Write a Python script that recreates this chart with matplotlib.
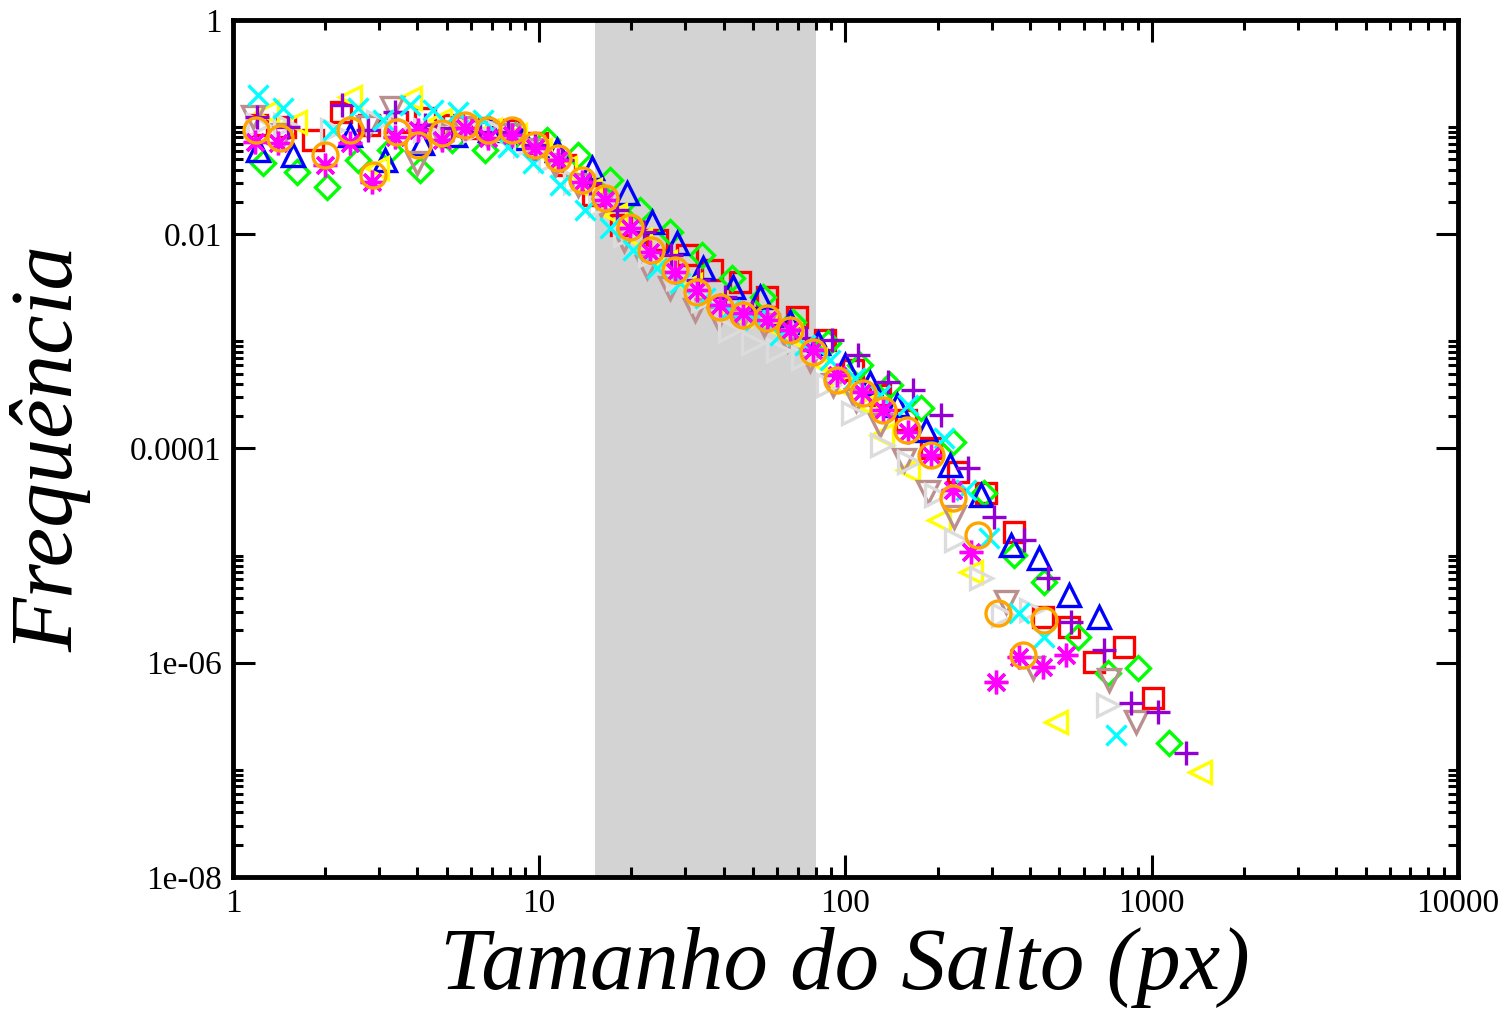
import matplotlib
matplotlib.use("Agg")
import matplotlib.pyplot as plt
from matplotlib.ticker import FixedLocator, FixedFormatter, NullFormatter

plt.rcParams['font.family'] = ['Liberation Serif', 'DejaVu Serif']

# shaded band (jump sizes)
band_lo, band_hi = 15.2, 80.0

# one list pair per series (x = jump size in px, y = frequency)
red_x = [1.198, 1.479, 1.826, 2.254, 2.783, 3.436, 4.242, 5.236, 6.463, 7.98, 9.85, 12.16, 15.01, 18.53,
         24.3, 30.46, 36.76, 45.39, 55.6, 69.67, 86.0, 106.2, 130.1, 157.1, 189.6, 232.3, 286.8, 354.1,
         440.4, 535.5, 646.3, 810.2, 1008]
red_y = [0.105, 0.100, 0.076, 0.138, 0.105, 0.112, 0.1216, 0.105, 0.098, 0.094, 0.0711, 0.0443, 0.0232,
         0.0122, 0.00883, 0.0064, 0.00463, 0.00358, 0.00259, 0.00169, 0.00103, 5.4e-4, 3.15e-4, 1.84e-4,
         1.01e-4, 6.02e-5, 3.84e-5, 1.66e-5, 2.67e-6, 2.15e-6, 1.01e-6, 1.4e-6, 4.67e-7]

green_x = [1.253, 1.619, 2.029, 2.562, 3.26, 4.085, 5.196, 6.66, 8.349, 10.62, 13.41, 17.06, 21.38, 26.8,
           34.1, 42.74, 53.95, 67.6, 88.0, 111.9, 140.3, 175.9, 223.7, 282.5, 354.1, 443.7, 573.1, 718.1,
           900, 1137]
green_y = [0.0462, 0.0381, 0.0276, 0.0493, 0.0611, 0.0398, 0.076, 0.0611, 0.084, 0.076, 0.0549, 0.0321,
           0.0168, 0.0105, 0.0064, 0.0039, 0.00259, 0.00151, 9.64e-4, 6.0e-4, 3.91e-4, 2.38e-4, 1.15e-4,
           3.84e-5, 1.01e-5, 5.65e-6, 1.73e-6, 8.0e-7, 8.9e-7, 1.77e-7]

blue_x = [1.207, 1.57, 2.412, 3.139, 4.147, 5.315, 6.916, 8.867, 11.45, 14.9, 19.4, 23.4, 28.25, 34.36,
          43.05, 52.76, 66.1, 81.6, 100, 120.7, 147.9, 182.6, 220.3, 276.2, 346.2, 427.3, 535.5, 671.0]
blue_y = [0.0611, 0.0549, 0.084, 0.0493, 0.0711, 0.084, 0.094, 0.079, 0.0611, 0.0415, 0.0243, 0.0130,
          0.00828, 0.00484, 0.00321, 0.00259, 0.00151, 9.64e-4, 6.0e-4, 4.08e-4, 2.54e-4, 1.49e-4, 7.0e-5,
          3.67e-5, 1.25e-5, 9.5e-6, 4.28e-6, 2.67e-6]

yellow_x = [1.291, 1.595, 2.412, 2.956, 3.788, 4.749, 5.731, 6.916, 8.349, 10.08, 12.16, 14.68, 17.72,
            21.38, 25.81, 31.16, 37.6, 45.39, 54.77, 66.1, 79.8, 96.3, 116.3, 132.1, 159.5, 201.4, 256.1,
            485.7, 1435]
yellow_y = [0.138, 0.112, 0.191, 0.0415, 0.187, 0.116, 0.105, 0.094, 0.084, 0.0611, 0.0415, 0.0259, 0.0151,
            0.00883, 0.0055, 0.00336, 0.00228, 0.00176, 0.00151, 0.00115, 6.68e-4, 3.91e-4, 2.54e-4,
            1.33e-4, 6.29e-5, 2.15e-5, 7.0e-6, 2.79e-7, 9.5e-8]

brown_x = [1.162, 1.457, 2.762, 3.308, 3.993, 4.749, 5.645, 6.712, 7.98, 9.486, 11.28, 13.41, 15.94, 18.96,
           22.54, 26.8, 32.35, 38.46, 45.73, 54.36, 64.64, 76.84, 91.4, 108.6, 129.2, 155.9, 186.7, 225.4,
           333.4, 408.5, 723.5, 886.6]
brown_y = [0.124, 0.084, 0.100, 0.151, 0.0462, 0.084, 0.098, 0.088, 0.084, 0.0611, 0.0443, 0.0288, 0.0187,
           0.00883, 0.00494, 0.00315, 0.00196, 0.00165, 0.00158, 0.00142, 0.00103, 6.68e-4, 3.91e-4,
           2.83e-4, 1.65e-4, 7.79e-5, 3.92e-5, 2.29e-5, 3.68e-6, 8.9e-7, 6.9e-7, 2.79e-7]

grey_x = [1.207, 1.479, 2.106, 2.978, 3.514, 4.242, 5.119, 6.178, 7.458, 9.0, 10.86, 13.11, 15.82, 19.1,
          23.05, 28.47, 34.36, 42.1, 50.05, 60.4, 72.9, 88.0, 106.2, 132.1, 160.7, 196.9, 228.8, 276.2,
          326.0, 402.4, 718.1]
grey_y = [0.105, 0.105, 0.094, 0.112, 0.105, 0.094, 0.094, 0.094, 0.088, 0.068, 0.0493, 0.0307, 0.0187,
          0.00984, 0.0064, 0.0039, 0.00243, 0.00128, 9.64e-4, 8.3e-4, 7.0e-4, 3.91e-4, 2.14e-4, 1.08e-4,
          7.46e-5, 3.67e-5, 1.40e-5, 6.16e-6, 2.78e-6, 3.1e-6, 4.02e-7]

violet_x = [1.198, 1.512, 2.271, 2.762, 3.384, 4.242, 5.196, 6.415, 7.919, 9.703, 11.89, 14.68, 17.99,
            22.04, 27.0, 33.09, 40.54, 49.67, 60.85, 74.6, 90.7, 110.3, 137.2, 166.8, 204.5, 250.4, 304.6,
            381.8, 457.2, 543.6, 696.7, 853.9, 1046, 1292]
violet_y = [0.124, 0.100, 0.161, 0.094, 0.138, 0.105, 0.098, 0.090, 0.090, 0.068, 0.0493, 0.0301, 0.0168,
            0.0105, 0.0064, 0.00373, 0.00259, 0.00188, 0.00142, 0.00107, 0.00103, 7.45e-4, 4.17e-4,
            3.51e-4, 2.05e-4, 6.56e-5, 2.29e-5, 1.40e-5, 6.16e-6, 2.39e-6, 1.31e-6, 4.2e-7, 3.46e-7, 1.43e-7]

cyan_x = [1.207, 1.457, 2.122, 2.562, 3.092, 3.788, 4.505, 5.436, 6.561, 7.919, 9.559, 11.71, 14.14, 17.06,
          20.29, 24.3, 28.9, 34.87, 42.1, 50.81, 61.32, 74.0, 89.3, 107.8, 130.1, 159.5, 209.1, 246.7,
          293.4, 367.7, 443.7, 762.9]
cyan_y = [0.1995, 0.151, 0.094, 0.151, 0.116, 0.161, 0.144, 0.138, 0.116, 0.0652, 0.0462, 0.0288, 0.0168,
          0.0114, 0.00712, 0.00484, 0.0035, 0.00254, 0.00196, 0.00158, 0.00115, 9.24e-4, 6.68e-4, 4.54e-4,
          3.15e-4, 2.54e-4, 1.25e-4, 4.09e-5, 1.46e-5, 2.9e-6, 1.73e-6, 2.11e-7]

magenta_x = [1.18, 1.403, 1.998, 2.412, 2.847, 3.384, 4.02, 4.82, 5.731, 6.813, 8.162, 9.703, 11.53, 13.82,
             16.43, 19.84, 23.05, 27.83, 32.84, 39.04, 46.42, 55.6, 66.1, 78.6, 94.2, 113.6, 133.1, 159.5,
             189.6, 223.7, 256.1, 309.2, 367.7, 440.4, 523.6]
magenta_y = [0.0726, 0.0711, 0.0443, 0.0711, 0.0307, 0.081, 0.094, 0.076, 0.098, 0.079, 0.084, 0.0638,
             0.0493, 0.0307, 0.0209, 0.0114, 0.00682, 0.00444, 0.00301, 0.00218, 0.00184, 0.00158, 0.00128,
             8.3e-4, 4.84e-4, 3.36e-4, 2.28e-4, 1.42e-4, 8.67e-5, 4.09e-5, 1.08e-5, 6.6e-7, 1.13e-6, 9.1e-7,
             1.18e-6]

orange_x = [1.189, 1.424, 1.998, 2.413, 2.868, 3.436, 4.023, 4.82, 5.73, 6.81, 8.16, 9.70, 11.5, 13.8, 16.4,
            19.8, 23.1, 27.8, 32.8, 39.0, 46.4, 55.6, 66.1, 78.6, 94.2, 114, 133, 159, 190, 224, 270, 316,
            379, 444]
orange_y = [0.094, 0.079, 0.0549, 0.094, 0.0357, 0.090, 0.068, 0.088, 0.105, 0.094, 0.094, 0.068, 0.0514,
            0.0321, 0.0218, 0.0117, 0.00712, 0.00463, 0.00289, 0.00209, 0.00176, 0.00165, 0.00128, 7.9e-4,
            4.35e-4, 3.29e-4, 2.28e-4, 1.49e-4, 8.7e-5, 3.44e-5, 1.55e-5, 2.9e-6, 1.18e-6, 2.5e-6]

x_ticks = [1, 10, 100, 1000, 10000]
x_labels = ['1', '10', '100', '1000', '10000']
y_ticks = [1e-8, 1e-6, 1e-4, 1e-2, 1]
y_labels = ['1e-08', '1e-06', '0.0001', '0.01', '1']

fig = plt.figure(figsize=(15.03, 10.13), dpi=100)
ax = fig.add_axes([0.155, 0.1343, 0.815, 0.846])

ax.axvspan(band_lo, band_hi, color='#d3d3d3', zorder=0, lw=0)

# drawn in set order, orange circles end on top
series = [
    (red_x, red_y, 's', '#ff0000', 14),
    (green_x, green_y, 'D', '#00ff00', 12),
    (blue_x, blue_y, '^', '#0000ff', 16),
    (yellow_x, yellow_y, '<', '#ffff00', 16),
    (brown_x, brown_y, 'v', '#bc8f8f', 16),
    (grey_x, grey_y, '>', '#dcdcdc', 16),
    (violet_x, violet_y, '+', '#9400d3', 17),
    (cyan_x, cyan_y, 'x', '#00ffff', 14),
    (magenta_x, magenta_y, (8, 2, 0), '#ff00ff', 17),
    (orange_x, orange_y, 'o', '#ffa500', 18),
]
for xs, ys, mk, col, ms in series:
    ax.plot(xs, ys, ls='none', marker=mk, ms=ms, mfc='none', mec=col, mew=2.4, zorder=3)

ax.set_xscale('log')
ax.set_yscale('log')
ax.set_xlim(1, 10000)
ax.set_ylim(1e-8, 1)

ax.xaxis.set_major_locator(FixedLocator(x_ticks))
ax.xaxis.set_major_formatter(FixedFormatter(x_labels))
ax.xaxis.set_minor_locator(FixedLocator([k * 10 ** e for e in range(4) for k in range(2, 10)]))
ax.xaxis.set_minor_formatter(NullFormatter())
ax.yaxis.set_major_locator(FixedLocator(y_ticks))
ax.yaxis.set_major_formatter(FixedFormatter(y_labels))
ax.yaxis.set_minor_locator(FixedLocator([k * 10.0 ** e for e in (-8, -6, -4, -2) for k in range(2, 11)]))
ax.yaxis.set_minor_formatter(NullFormatter())

for s in ax.spines.values():
    s.set_linewidth(3.5)
ax.tick_params(which='both', direction='in', top=True, right=True, width=2.2, labelsize=24)
ax.tick_params(which='major', length=16, pad=8)
ax.tick_params(which='minor', length=7)

ax.set_xlabel('Tamanho do Salto (px)', fontsize=64, style='italic', labelpad=6)
ax.set_ylabel('Frequência', fontsize=64, style='italic', labelpad=28)

fig.savefig('out.png', dpi=100)
